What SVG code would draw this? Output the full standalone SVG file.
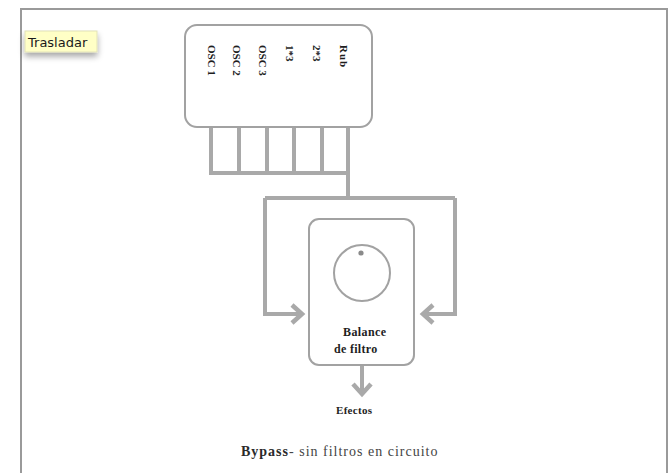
<svg xmlns="http://www.w3.org/2000/svg" width="670" height="473" viewBox="0 0 670 473">
<defs>
<style>
.frame{fill:none;stroke:#9a9a9a;stroke-width:2}
.box{fill:#fff;stroke:#a2a2a2;stroke-width:2}
.wire{fill:none;stroke:#a9a9a9;stroke-width:4;stroke-linejoin:miter}
.lbl{font-family:"Liberation Serif","DejaVu Serif",serif;font-weight:bold;fill:#1e1e1e}
.vt{font-size:11px}
</style>
<marker id="chev" markerUnits="userSpaceOnUse" markerWidth="24" markerHeight="24" refX="12" refY="12" orient="auto" overflow="visible">
<polyline points="1,3 11,12 1,21" fill="none" stroke="#a9a9a9" stroke-width="4.5"/>
</marker>
<filter id="sh" x="-20%" y="-20%" width="140%" height="180%">
<feGaussianBlur in="SourceAlpha" stdDeviation="3"/>
<feOffset dy="4"/>
<feComponentTransfer><feFuncA type="linear" slope="0.35"/></feComponentTransfer>
<feMerge><feMergeNode/><feMergeNode in="SourceGraphic"/></feMerge>
</filter>
</defs>
<rect width="670" height="473" fill="#fff"/>
<rect class="frame" x="21" y="9" width="646" height="480"/>

<g id="connectors">
<path class="wire" d="M211,127 V173 H348 M239,127 V173 M267,127 V173 M294,127 V173 M322,127 V173 M348,127 V198"/>
<path class="wire" d="M265,198 H455"/>
<path class="wire" d="M265,198 V314 H303" marker-end="url(#chev)"/>
<path class="wire" d="M455,198 V314 H422" marker-end="url(#chev)"/>
<path class="wire" d="M362,365 V395" marker-end="url(#chev)"/>
</g>

<g id="selector">
<rect class="box" x="185" y="25" width="187" height="102" rx="12"/>
<text class="lbl vt" transform="translate(208,45) rotate(90)">OSC 1</text>
<text class="lbl vt" transform="translate(233,45) rotate(90)">OSC 2</text>
<text class="lbl vt" transform="translate(259,45) rotate(90)">OSC 3</text>
<text class="lbl vt" transform="translate(286,45) rotate(90)">1*3</text>
<text class="lbl vt" transform="translate(313,45) rotate(90)">2*3</text>
<text class="lbl vt" transform="translate(340,45) rotate(90)" letter-spacing="1">Rub</text>
</g>

<g id="balance">
<rect class="box" x="309" y="219" width="105" height="146" rx="10"/>
<circle cx="362" cy="273" r="28" fill="#fff" stroke="#a2a2a2" stroke-width="2"/>
<circle cx="361" cy="253" r="2.6" fill="#8a8a8a"/>
<text class="lbl" x="343" y="336" font-size="12" letter-spacing="0.4">Balance</text>
<text class="lbl" x="334" y="353" font-size="12" letter-spacing="0.3">de filtro</text>
</g>

<g id="efectos">
<text class="lbl" x="336" y="414" font-size="11" letter-spacing="0.3">Efectos</text>
</g>

<g id="caption">
<text x="241" y="456" font-family="'Liberation Serif','DejaVu Serif',serif" font-size="14" letter-spacing="1" fill="#2a2a2a"><tspan font-weight="bold">Bypass</tspan><tspan fill="#444">- sin filtros en circuito</tspan></text>
</g>

<g id="tooltip">
<rect x="25" y="31" width="72" height="21" fill="#ffffc6" stroke="#e2e2b8" stroke-width="1" filter="url(#sh)"/>
<text x="28" y="47" font-family="'DejaVu Sans','Liberation Sans',sans-serif" font-size="13" fill="#1a1a1a">Trasladar</text>
</g>
</svg>
